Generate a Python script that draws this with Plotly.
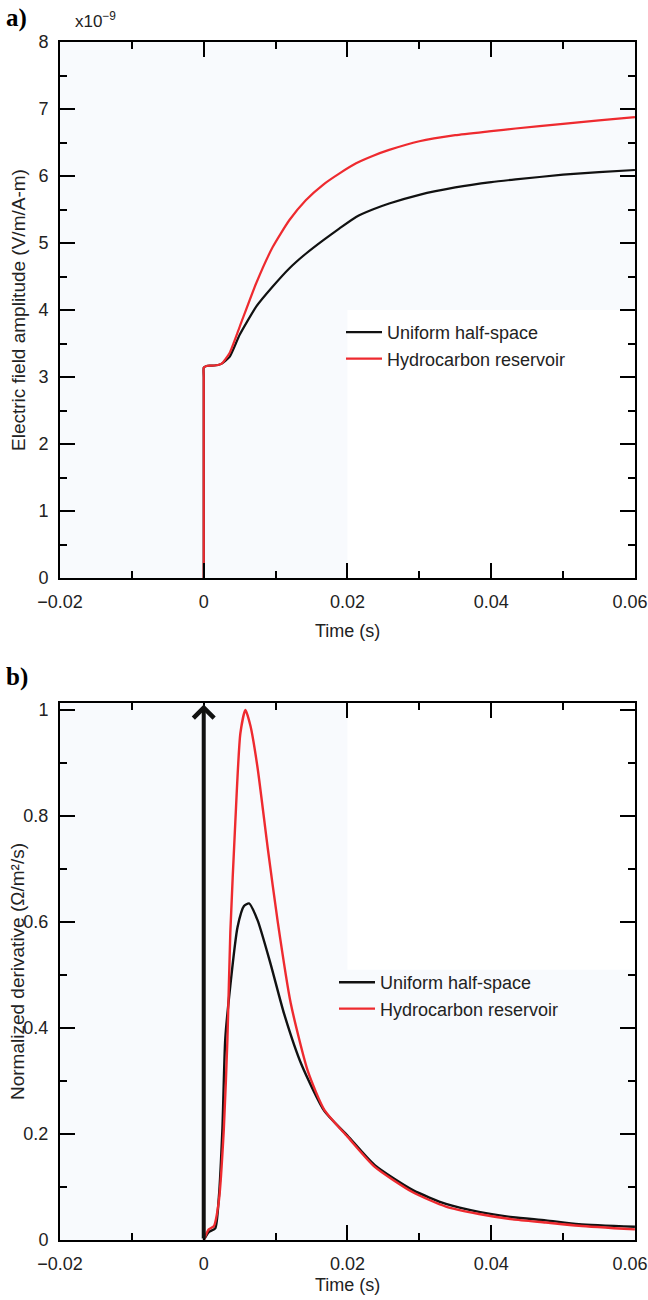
import plotly.graph_objects as go

# ---------------- Panel a data ----------------
t_a_uniform = [0.0, 0.0, 0.0, 0.0004, 0.001, 0.002, 0.0025, 0.0036, 0.005, 0.0073, 0.0096, 0.0119,
               0.0142, 0.0166, 0.0189, 0.0212, 0.0235, 0.0258, 0.03, 0.035, 0.04, 0.0434,
               0.05, 0.055, 0.06]
e_uniform = [0.0, 3.0, 3.14, 3.165, 3.17, 3.18, 3.2, 3.30, 3.63, 4.05, 4.35, 4.62,
             4.84, 5.04, 5.22, 5.39, 5.50, 5.59, 5.72, 5.83, 5.91, 5.95,
             6.02, 6.06, 6.09]
t_a_reservoir = [0.0, 0.0, 0.0, 0.0004, 0.001, 0.002, 0.0025, 0.0036, 0.005, 0.0073, 0.0096, 0.0119,
                 0.0142, 0.0166, 0.0189, 0.0212, 0.0235, 0.0258, 0.03, 0.035, 0.04, 0.0434,
                 0.05, 0.055, 0.06]
e_reservoir = [0.0, 3.0, 3.14, 3.165, 3.17, 3.18, 3.2, 3.36, 3.75, 4.40, 4.94, 5.34,
               5.64, 5.87, 6.04, 6.19, 6.30, 6.39, 6.52, 6.61, 6.67, 6.71,
               6.78, 6.83, 6.88]

# ---------------- Panel b data ----------------
t_b_uniform = [0.0, 0.0007, 0.0016, 0.0021, 0.0026, 0.003, 0.0037, 0.0047, 0.0056, 0.0063,
               0.0075, 0.0093, 0.0112, 0.0136, 0.0168, 0.02, 0.0238, 0.0291, 0.0337, 0.0383,
               0.043, 0.0476, 0.0522, 0.06]
d_uniform = [0.0, 0.015, 0.022, 0.08, 0.21, 0.38, 0.48, 0.59, 0.63, 0.635,
             0.603, 0.521, 0.426, 0.331, 0.243, 0.197, 0.141, 0.094, 0.068, 0.053,
             0.043, 0.037, 0.030, 0.025]
t_b_reservoir = [0.0, 0.0007, 0.0014, 0.0021, 0.0028, 0.0033, 0.0037, 0.0044, 0.0051, 0.0058,
                 0.0065, 0.0075, 0.0089, 0.0103, 0.0121, 0.0145, 0.0168, 0.02, 0.0238, 0.0291,
                 0.0337, 0.0383, 0.043, 0.0476, 0.0522, 0.06]
d_reservoir = [0.0, 0.02, 0.026, 0.073, 0.21, 0.38, 0.58, 0.79, 0.956, 1.0,
               0.97, 0.89, 0.74, 0.60, 0.447, 0.318, 0.245, 0.195, 0.138, 0.09,
               0.063, 0.049, 0.039, 0.033, 0.027, 0.02]

x_tickvals = [-0.02, 0, 0.02, 0.04, 0.06]
x_ticktext = ["\u22120.02", "0", "0.02", "0.04", "0.06\u00a0\u00a0"]

series_names = ["Uniform half-space", "Hydrocarbon reservoir"]
series_colors = ["#111111", "#ee2a2f"]

W, H = 648, 1300
FONT = "Liberation Sans, Arial, sans-serif"

fig = go.Figure()
fig.add_trace(go.Scatter(x=t_a_uniform, y=e_uniform, mode="lines", name=series_names[0],
                         line=dict(color=series_colors[0], width=2.2, shape="spline", smoothing=0.5),
                         xaxis="x", yaxis="y", legend="legend"))
fig.add_trace(go.Scatter(x=t_a_reservoir, y=e_reservoir, mode="lines", name=series_names[1],
                         line=dict(color=series_colors[1], width=2.2, shape="spline", smoothing=0.5),
                         xaxis="x", yaxis="y", legend="legend"))
fig.add_trace(go.Scatter(x=t_b_uniform, y=d_uniform, mode="lines", name=series_names[0],
                         line=dict(color=series_colors[0], width=2.4, shape="spline", smoothing=0.6),
                         xaxis="x2", yaxis="y2", legend="legend2"))
fig.add_trace(go.Scatter(x=t_b_reservoir, y=d_reservoir, mode="lines", name=series_names[1],
                         line=dict(color=series_colors[1], width=2.4, shape="spline", smoothing=0.6),
                         xaxis="x2", yaxis="y2", legend="legend2"))


def px_x(p):
    return p / W


def px_y(p):
    return 1 - p / H


xdom = [px_x(60), px_x(635)]
common_axis = dict(showline=True, linecolor="black", linewidth=2, mirror="ticks",
                   ticks="inside", ticklen=15, tickwidth=1.5, tickcolor="black",
                   showgrid=False, zeroline=False, automargin=False,
                   ticklabeloverflow="allow",
                   tickfont=dict(family=FONT, size=18, color="#222"))

xa = dict(common_axis, range=[-0.02, 0.06001], tickvals=x_tickvals, ticktext=x_ticktext,
          minor=dict(tickvals=[-0.01, 0.01, 0.03, 0.05], ticks="inside", ticklen=7,
                     tickwidth=1.5, tickcolor="black"),
          domain=xdom, ticklabelstandoff=6)

fig.update_layout(
    width=W, height=H,
    margin=dict(l=0, r=0, t=0, b=0, autoexpand=False),
    paper_bgcolor="white",
    plot_bgcolor="#f8fafd",
    showlegend=True,
    xaxis=dict(xa, anchor="y"),
    yaxis=dict(common_axis, range=[0, 8.001], dtick=1, domain=[px_y(578), px_y(42)], anchor="x",
               minor=dict(dtick=0.5, ticks="inside", ticklen=7, tickwidth=1.5, tickcolor="black"),
               ticklabelstandoff=6),
    xaxis2=dict(xa, anchor="y2"),
    yaxis2=dict(common_axis, range=[0, 1.013], tickvals=[0, 0.2, 0.4, 0.6, 0.8, 1.0],
                ticktext=["0", "0.2", "0.4", "0.6", "0.8", "1"],
                domain=[px_y(1240), px_y(703)], anchor="x2",
                minor=dict(tickvals=[0.1, 0.3, 0.5, 0.7, 0.9], ticks="inside", ticklen=7,
                           tickwidth=1.5, tickcolor="black"),
                ticklabelstandoff=6),
    legend=dict(x=px_x(341), y=px_y(314), xanchor="left", yanchor="top",
                bgcolor="rgba(0,0,0,0)", font=dict(family=FONT, size=18, color="#222"),
                tracegroupgap=0, itemwidth=36),
    legend2=dict(x=px_x(334), y=px_y(964), xanchor="left", yanchor="top",
                 bgcolor="rgba(0,0,0,0)", font=dict(family=FONT, size=18, color="#222"),
                 tracegroupgap=0, itemwidth=36),
    shapes=[
        dict(type="rect", xref="x", yref="y", x0=0.02, x1=0.06001, y0=0, y1=4.0,
             fillcolor="white", line=dict(width=0), layer="below"),
        dict(type="rect", xref="x2", yref="y2", x0=0.02, x1=0.06001, y0=0.51, y1=1.013,
             fillcolor="white", line=dict(width=0), layer="below"),
    ],
    annotations=[
        dict(text="<b>a)</b>", x=px_x(4), y=px_y(18), xref="paper", yref="paper",
             xanchor="left", yanchor="middle", showarrow=False,
             font=dict(family="Liberation Serif, Times New Roman, serif", size=25, color="black")),
        dict(text="<b>b)</b>", x=px_x(4), y=px_y(677), xref="paper", yref="paper",
             xanchor="left", yanchor="middle", showarrow=False,
             font=dict(family="Liberation Serif, Times New Roman, serif", size=25, color="black")),
        dict(text="x10<sup>\u22129</sup>", x=px_x(73), y=px_y(20), xref="paper", yref="paper",
             xanchor="left", yanchor="middle", showarrow=False,
             font=dict(family=FONT, size=17, color="#222")),
        dict(text="Electric field amplitude (V/m/A-m)", x=px_x(18), y=px_y(310),
             xref="paper", yref="paper", textangle=-90, showarrow=False,
             xanchor="center", yanchor="middle", font=dict(family=FONT, size=19, color="#222")),
        dict(text="Normalized derivative (\u03a9/m\u00b2/s)", x=px_x(17), y=px_y(972),
             xref="paper", yref="paper", textangle=-90, showarrow=False,
             xanchor="center", yanchor="middle", font=dict(family=FONT, size=19, color="#222")),
        dict(text="Time (s)", x=(xdom[0] + xdom[1]) / 2, y=px_y(631), xref="paper", yref="paper",
             showarrow=False, xanchor="center", yanchor="middle",
             font=dict(family=FONT, size=18, color="#222")),
        dict(text="Time (s)", x=(xdom[0] + xdom[1]) / 2, y=px_y(1285), xref="paper", yref="paper",
             showarrow=False, xanchor="center", yanchor="middle",
             font=dict(family=FONT, size=18, color="#222")),
        # impulse arrow at t = 0
        dict(x=0, y=1.01, ax=0, ay=0, xref="x2", yref="y2", axref="x2", ayref="y2",
             text="", showarrow=True, arrowhead=4, arrowsize=1, arrowwidth=4,
             arrowcolor="#111111", standoff=0),
    ],
)

fig.write_html("out.html")
